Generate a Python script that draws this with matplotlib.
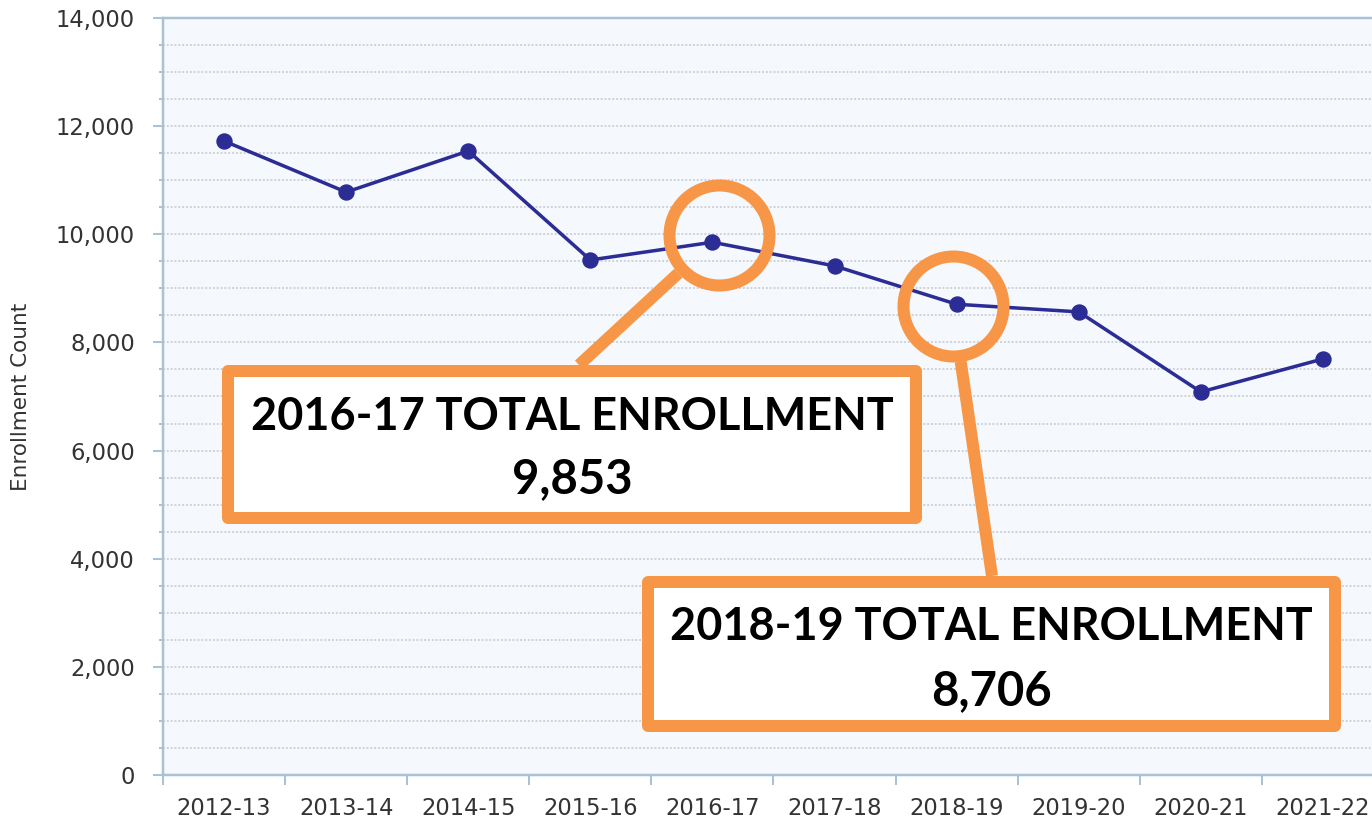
import matplotlib
matplotlib.use("Agg")
import matplotlib.pyplot as plt
from matplotlib.patches import Rectangle
from matplotlib.lines import Line2D
from matplotlib.ticker import MultipleLocator, FuncFormatter
import numpy as np

# ---------------- data ----------------
years = ["2012-13", "2013-14", "2014-15", "2015-16", "2016-17",
         "2017-18", "2018-19", "2019-20", "2020-21", "2021-22"]
enrollment = [11725, 10780, 11540, 9525, 9853, 9415, 8706, 8565, 7085, 7695]

callout_years = ["2016-17", "2018-19"]
callout_titles = ["2016-17 TOTAL ENROLLMENT", "2018-19 TOTAL ENROLLMENT"]
callout_values = ["9,853", "8,706"]

ylabel = "Enrollment Count"

# ---------------- style ----------------
W, H = 1372, 824
DPI = 100
PX = 72.0 / DPI  # points per pixel

LINE_C = "#2B2C94"
ORANGE = "#F79646"
AXIS_C = "#A9C2D4"
GRID_C = "#C6CAD0"
BG_C = "#F5F8FC"
TXT_C = "#333333"

fig = plt.figure(figsize=(W / DPI, H / DPI), dpi=DPI)
fig.patch.set_facecolor("white")

def fx(px):
    return px / W

def fy(py):
    return 1 - py / H

left, right, top, bottom = 163, 1384, 18, 775
ax = fig.add_axes([fx(left), fy(bottom), (right - left) / W, (bottom - top) / H])
ax.set_facecolor(BG_C)

x = np.arange(len(years))
ax.plot(x, enrollment, color=LINE_C, lw=3.5 * PX, marker="o",
        ms=15 * PX, mfc=LINE_C, mec=LINE_C, zorder=3, clip_on=False)

ax.set_xlim(-0.5, len(years) - 0.5)
ax.set_ylim(0, 14000)

# y axis
ax.yaxis.set_major_locator(MultipleLocator(2000))
ax.yaxis.set_minor_locator(MultipleLocator(500))
ax.yaxis.set_major_formatter(FuncFormatter(lambda v, p: f"{int(v):,}"))
ax.tick_params(axis="y", which="major", length=10 * PX, width=2 * PX,
               color=AXIS_C, labelsize=16.3, labelcolor=TXT_C, pad=18 * PX)
ax.tick_params(axis="y", which="minor", length=4 * PX, width=2 * PX, color=AXIS_C)

# x axis: labels at centres, ticks at boundaries
ax.set_xticks(x)
ax.set_xticklabels(years)
ax.set_xticks(np.arange(-0.5, len(years)), minor=True)
ax.tick_params(axis="x", which="major", length=0, labelsize=16.3,
               labelcolor=TXT_C, pad=22 * PX)
ax.tick_params(axis="x", which="minor", length=10 * PX, width=2 * PX, color=AXIS_C)

for lab in ax.get_xticklabels() + ax.get_yticklabels():
    lab.set_fontfamily("DejaVu Sans")

ax.set_ylabel(ylabel, fontsize=15.5, color=TXT_C, labelpad=0)
ax.yaxis.set_label_coords((31 - left) / (right - left),
                          0.5 - ((397 - (top + bottom) / 2) / (bottom - top)))

# grid (dotted, every 500)
ax.grid(True, which="both", axis="y", color=GRID_C, ls=(0, (1.2, 1.2)), lw=1.6 * PX, zorder=0)
ax.set_axisbelow(True)

for s in ["left", "bottom", "top"]:
    ax.spines[s].set_color(AXIS_C)
    ax.spines[s].set_linewidth(2.5 * PX)
ax.spines["right"].set_visible(False)

# ---------------- callouts ----------------
boxes = [  # (left, top, right, bottom) centreline in px
    (228, 371, 916, 518),
    (648, 582, 1335, 726),
]
title_baseline = [430, 640]
value_baseline = [493, 705]
box_attach = [(579, 365), (992, 576)]
circle_offset = [(7, -7), (-4, 2)]  # px offset of circle from data point
circle_r = 50  # px centre-line radius
STROKE = 12

fig.canvas.draw()
for i, yr in enumerate(callout_years):
    idx = years.index(yr)
    dx, dy = ax.transData.transform((idx, enrollment[idx]))
    cpx = dx + circle_offset[i][0]
    cpy = (H - dy) + circle_offset[i][1]
    # circle
    fig.add_artist(Line2D([fx(cpx)], [fy(cpy)], marker="o", ms=2 * circle_r * PX,
                          mfc="none", mec=ORANGE, mew=STROKE * PX, zorder=6,
                          transform=fig.transFigure))
    # connector
    bx, by = box_attach[i]
    vx, vy = cpx - bx, cpy - by
    d = np.hypot(vx, vy)
    ex, ey = cpx - vx / d * (circle_r + STROKE / 2), cpy - vy / d * (circle_r + STROKE / 2)
    fig.add_artist(Line2D([fx(bx), fx(ex)], [fy(by), fy(ey)], color=ORANGE,
                          lw=STROKE * PX, solid_capstyle="butt", zorder=6,
                          transform=fig.transFigure))
    # box
    l, t, r, b = boxes[i]
    fig.add_artist(Rectangle((fx(l), fy(b)), (r - l) / W, (b - t) / H,
                             facecolor="white", edgecolor=ORANGE, lw=STROKE * PX,
                             joinstyle="round", zorder=7, transform=fig.transFigure))
    mid = (l + r) / 2
    t1 = fig.text(fx(mid), fy(title_baseline[i]), callout_titles[i], ha="center",
                  va="baseline", fontsize=34, fontweight="bold", family="Lato",
                  color="black", zorder=8)
    t2 = fig.text(fx(mid), fy(value_baseline[i]), callout_values[i], ha="center",
                  va="baseline", fontsize=34, fontweight="bold", family="Lato",
                  color="black", zorder=8)
    fig.canvas.draw()
    w = t1.get_window_extent().width
    fs = 34 * 643 / w
    t1.set_fontsize(fs)
    t2.set_fontsize(fs * 1.05)

fig.savefig("out.png", dpi=DPI, facecolor="white")
